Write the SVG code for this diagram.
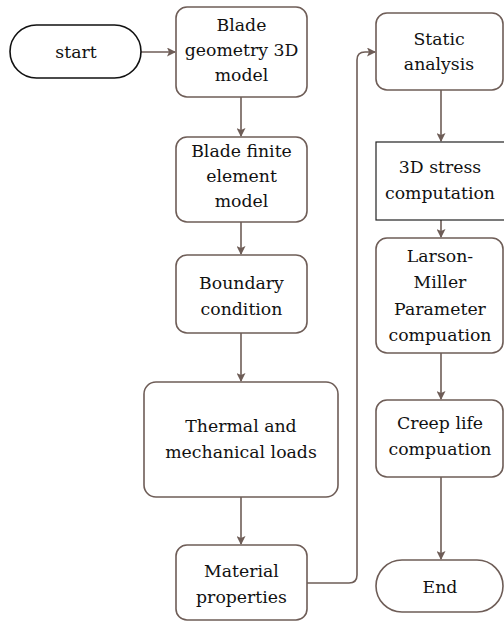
<svg xmlns="http://www.w3.org/2000/svg" width="504" height="622" viewBox="0 0 504 622">
<defs>
<marker id="ah" markerWidth="9" markerHeight="9" refX="8" refY="4.5" orient="auto" markerUnits="userSpaceOnUse">
<path d="M0,0 L9,4.5 L0,9 L2,4.5 z" fill="#6e5d57"/>
</marker>
<style>
.box{fill:#fff;stroke:#6e5d57;stroke-width:1.6}
.term{fill:#fff;stroke:#111;stroke-width:1.6}
.rect{fill:#fff;stroke:#222;stroke-width:1.2}
.conn{fill:none;stroke:#6e5d57;stroke-width:1.6}
.t{font-family:'DejaVu Serif','Liberation Serif',serif;font-size:17.3px;fill:#111;text-anchor:middle}
</style>
</defs>
<rect width="504" height="622" fill="#fff"/>
<g id="connectors">
<line class="conn" x1="141" y1="52" x2="175" y2="52" marker-end="url(#ah)"/>
<line class="conn" x1="241" y1="97" x2="241" y2="136" marker-end="url(#ah)"/>
<line class="conn" x1="241" y1="222" x2="241" y2="254" marker-end="url(#ah)"/>
<line class="conn" x1="241" y1="333" x2="241" y2="381" marker-end="url(#ah)"/>
<line class="conn" x1="241" y1="497" x2="241" y2="544" marker-end="url(#ah)"/>
<path class="conn" d="M307,583 H349 Q357,583 357,575 V60 Q357,52 365,52 H375" marker-end="url(#ah)"/>
<line class="conn" x1="441" y1="90" x2="441" y2="141" marker-end="url(#ah)"/>
<line class="conn" x1="441" y1="220" x2="441" y2="237" marker-end="url(#ah)"/>
<line class="conn" x1="441" y1="353" x2="441" y2="399" marker-end="url(#ah)"/>
<line class="conn" x1="441" y1="477" x2="441" y2="559" marker-end="url(#ah)"/>
</g>
<g id="start">
<rect class="term" x="10" y="25" width="131" height="53" rx="26.5" ry="26.5"/>
<text class="t" x="76" y="58">start</text>
</g>
<g id="blade-geometry">
<rect class="box" x="176" y="7" width="131" height="90" rx="11"/>
<text class="t" x="241.5" y="31">Blade</text>
<text class="t" x="241.5" y="56">geometry 3D</text>
<text class="t" x="241.5" y="81">model</text>
</g>
<g id="blade-fem">
<rect class="box" x="176" y="137" width="131" height="85" rx="11"/>
<text class="t" x="241.5" y="157">Blade finite</text>
<text class="t" x="241.5" y="182">element</text>
<text class="t" x="241.5" y="207">model</text>
</g>
<g id="boundary">
<rect class="box" x="176" y="255" width="131" height="78" rx="11"/>
<text class="t" x="241.5" y="289">Boundary</text>
<text class="t" x="241.5" y="315">condition</text>
</g>
<g id="thermal">
<rect class="box" x="144" y="382" width="194" height="115" rx="12"/>
<text class="t" x="241" y="432">Thermal and</text>
<text class="t" x="241" y="458">mechanical loads</text>
</g>
<g id="material">
<rect class="box" x="176" y="545" width="131" height="75" rx="11"/>
<text class="t" x="241.5" y="577">Material</text>
<text class="t" x="241.5" y="603">properties</text>
</g>
<g id="static">
<rect class="box" x="376" y="13" width="127" height="77" rx="11"/>
<text class="t" x="439" y="45">Static</text>
<text class="t" x="439" y="70">analysis</text>
</g>
<g id="stress">
<rect class="rect" x="376" y="142" width="140" height="78"/>
<text class="t" x="440" y="173">3D stress</text>
<text class="t" x="440" y="199">computation</text>
</g>
<g id="larson">
<rect class="box" x="376" y="238" width="127" height="115" rx="11"/>
<text class="t" x="440" y="262">Larson-</text>
<text class="t" x="440" y="288">Miller</text>
<text class="t" x="440" y="315">Parameter</text>
<text class="t" x="440" y="341">compuation</text>
</g>
<g id="creep">
<rect class="box" x="376" y="400" width="127" height="77" rx="11"/>
<text class="t" x="440" y="429">Creep life</text>
<text class="t" x="440" y="455">compuation</text>
</g>
<g id="end">
<rect class="box" x="376" y="560" width="127" height="52" rx="26" ry="26"/>
<text class="t" x="440" y="593">End</text>
</g>
</svg>
